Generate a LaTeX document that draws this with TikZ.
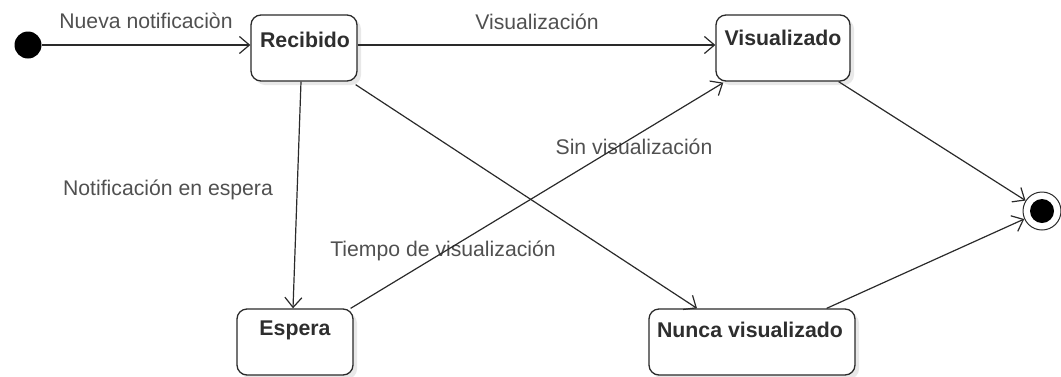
\documentclass[tikz,border=0pt]{standalone}
\usepackage{fontspec}
\setmainfont{Liberation Sans}
\usetikzlibrary{arrows.meta,calc,shadows}
\definecolor{linec}{HTML}{2A2A2A}
\definecolor{labc}{HTML}{505050}
\definecolor{titc}{HTML}{2E2E2E}
\begin{document}
\begin{tikzpicture}[x=1pt,y=-1pt,
  statebox/.style={draw=linec, line width=1.3pt, rounded corners=10pt, fill=white,
    drop shadow={opacity=0.18, shadow xshift=4pt, shadow yshift=-4pt}, inner sep=0pt},
  title/.style={font=\fontsize{21.3}{23}\selectfont\bfseries, text=titc, inner sep=0pt},
  lab/.style={font=\fontsize{21.2}{23}\selectfont, text=labc, inner sep=0pt},
  conn/.style={draw=linec, line width=1.2pt, -{Straight Barb[length=10pt,width=17pt,line width=1.2pt]}}
]
\useasboundingbox (0,0) rectangle (1061,376);
% nodes
\node[circle, fill=black, minimum size=27pt, inner sep=0pt] (ini) at (28,45) {};
\node[statebox, minimum width=106pt, minimum height=66pt] (rec) at (304,48) {};
\node[title] (rect) at (305,40) {Recibido};
\node[statebox, minimum width=134pt, minimum height=66pt] (vis) at (783,48) {};
\node[title] (vist) at (783,38) {Visualizado};
\node[statebox, minimum width=116pt, minimum height=66pt] (esp) at (295,342) {};
\node[title] (espt) at (295,330) {Espera};
\node[statebox, minimum width=206pt, minimum height=66pt] (nun) at (752,342) {};
\node[title] (nunt) at (750,330) {Nunca visualizado};
\node[circle, draw=linec, line width=1pt, fill=white, minimum size=38pt, inner sep=0pt] (fin) at (1042,211) {};
\node[circle, fill=black, minimum size=24pt, inner sep=0pt] (fini) at (fin) {};
% labels
\node[lab] (l1) at (146,21) {Nueva notificaciòn};
\node[lab] (l2) at (537,22) {Visualización};
\node[lab] (l3) at (634,147) {Sin visualización};
\node[lab] (l4) at (443,251) {Tiempo de visualización};
\node[lab] (l5) at (168,190) {Notificación en espera};
% connectors
\draw[conn] (ini.east) -- (rec.west |- ini.east);
\draw[conn] ($(rec.east)+(0,-3)$) -- ($(vis.west)+(0,-3)$);
\draw[conn] ($(rec.south)+(-3,0)$) -- ($(esp.north)+(-2,0)$);
\draw[conn] ($(rec.south east)+(-2,3)$) -- ($(nun.north)+(-55,0)$);
\draw[conn] ($(esp.north east)+(-3,0)$) -- ($(vis.south west)+(8,1)$);
\draw[conn] ($(vis.south east)+(-12,0)$) -- (fin);
\draw[conn] ($(nun.north east)+(-29,0)$) -- (fin);
\end{tikzpicture}
\end{document}
